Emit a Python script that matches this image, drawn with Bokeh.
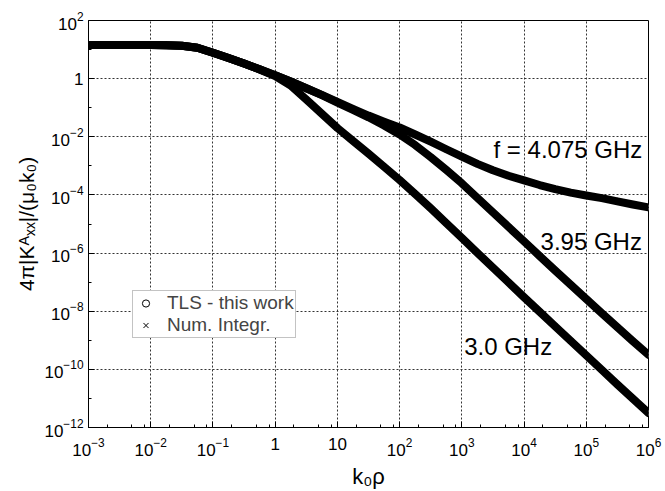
from bokeh.plotting import figure
from bokeh.models import FixedTicker, LogTickFormatter, Label, Legend, LegendItem, Range1d
from bokeh.embed import file_html
from bokeh.resources import INLINE

# ---------------- data ----------------
k0rho = [1e-3, 1.778e-3, 3.162e-3, 5.623e-3, 1e-2, 1.778e-2, 3.162e-2, 5.623e-2,
         0.1, 0.1778, 0.3162, 0.5623, 1.0, 1.778, 3.162, 5.623,
         10.0, 17.78, 31.62, 56.23, 100.0, 177.8, 316.2, 562.3,
         1e3, 1778.0, 3162.0, 5623.0, 1e4, 17780.0, 31620.0, 56230.0,
         1e5, 177800.0, 316200.0, 562300.0, 1e6]

k_f3p0 = [14.45, 14.45, 14.45, 14.45, 14.45, 14.1, 13.5, 11.5,
          7.76, 5.13, 3.31, 2.07, 1.22, 0.575, 0.191, 0.0617,
          0.0200, 7.24e-3, 2.63e-3, 9.33e-4, 3.24e-4, 1.07e-4, 3.47e-5, 1.07e-5,
          3.31e-6, 1.02e-6, 3.16e-7, 9.77e-8, 3.02e-8, 9.55e-9, 3.02e-9, 9.55e-10,
          3.02e-10, 9.55e-11, 3.02e-11, 9.77e-12, 3.16e-12]

k_f3p95 = [14.45, 14.45, 14.45, 14.45, 14.45, 14.1, 13.5, 11.5,
           7.76, 5.13, 3.31, 2.09, 1.32, 0.794, 0.468, 0.269,
           0.151, 0.0851, 0.0468, 0.0245, 0.0120, 5.2e-3, 2.0e-3, 7.24e-4,
           2.51e-4, 7.94e-5, 2.51e-5, 7.94e-6, 2.51e-6, 7.94e-7, 2.51e-7, 8.13e-8,
           2.63e-8, 8.51e-9, 2.82e-9, 9.33e-10, 3.16e-10]

k_f4p075 = [14.45, 14.45, 14.45, 14.45, 14.45, 14.1, 13.5, 11.5,
            7.76, 5.13, 3.31, 2.09, 1.32, 0.794, 0.468, 0.275,
            0.158, 0.0912, 0.0537, 0.0331, 0.0209, 0.0120, 6.76e-3, 3.72e-3,
            2.09e-3, 1.17e-3, 7.08e-4, 4.57e-4, 3.16e-4, 2.19e-4, 1.58e-4, 1.20e-4,
            9.55e-5, 7.76e-5, 6.03e-5, 4.68e-5, 3.72e-5]

series = [k_f3p0, k_f3p95, k_f4p075]

x_major = [1e-3, 1e-2, 1e-1, 1.0, 10.0, 1e2, 1e3, 1e4, 1e5, 1e6]
x_minor = [2e-3, 5e-3, 8e-3, 2e-2, 5e-2, 8e-2, 0.2, 0.5, 0.8, 2.0, 5.0, 8.0,
           20.0, 50.0, 80.0, 200.0, 500.0, 800.0, 2e3, 5e3, 8e3, 2e4, 5e4, 8e4,
           2e5, 5e5, 8e5]
y_major = [1e-12, 1e-10, 1e-8, 1e-6, 1e-4, 1e-2, 1.0, 1e2]
y_minor = [1e-11, 1e-9, 1e-7, 1e-5, 1e-3, 1e-1, 10.0]

curve_labels = ["3.0 GHz", "3.95 GHz", "f = 4.075 GHz"]
legend_labels = ["TLS - this work", "Num. Integr."]

FONT = "Liberation Sans"

p = figure(width=664, height=491, x_axis_type="log", y_axis_type="log",
           x_range=Range1d(1e-3, 1e6), y_range=Range1d(1e-12, 1e2),
           output_backend="svg", toolbar_location=None,
           min_border_left=88, min_border_right=16, min_border_top=20, min_border_bottom=63)

circle_rs = []
cross_rs = []
for vals in series:
    circle_rs.append(p.scatter(k0rho, vals, marker="circle", size=6, fill_color="white",
                               line_color="black", line_width=1))
    cross_rs.append(p.scatter(k0rho, vals, marker="x", size=6, line_color="black", line_width=1))
    p.line(k0rho, vals, line_width=8, line_color="black", line_join="round", line_cap="round")

# axes
for ax in (p.xaxis[0], p.yaxis[0]):
    ax.formatter = LogTickFormatter()
    ax.major_label_overrides = {1: "1", 10: "10"}
    ax.major_label_text_font = FONT
    ax.major_label_text_font_size = "17px"
    ax.major_label_text_color = "black"
    ax.axis_label_text_font = FONT
    ax.axis_label_text_font_style = "normal"
    ax.axis_label_text_color = "black"
    ax.major_tick_in = 6
    ax.major_tick_out = 0
    ax.minor_tick_in = 3
    ax.minor_tick_out = 0
    ax.axis_line_color = "black"
    ax.major_tick_line_color = "black"
    ax.minor_tick_line_color = "black"

p.xaxis[0].ticker = FixedTicker(ticks=x_major, minor_ticks=x_minor)
p.yaxis[0].ticker = FixedTicker(ticks=y_major, minor_ticks=y_minor)
p.xaxis[0].axis_label = "k₀ρ"
p.yaxis[0].axis_label = "4π|Kᴬₓₓ|/(μ₀k₀)"
p.xaxis[0].axis_label_text_font_size = "22px"
p.yaxis[0].axis_label_text_font_size = "21px"
p.xaxis[0].major_label_standoff = 10
p.yaxis[0].major_label_standoff = 5
p.xaxis[0].axis_label_standoff = 5
p.yaxis[0].axis_label_standoff = 3

p.xgrid.grid_line_color = "#333333"
p.ygrid.grid_line_color = "#333333"
p.xgrid.grid_line_dash = "2 2"
p.ygrid.grid_line_dash = "2 2"
p.xgrid.grid_line_width = 1
p.ygrid.grid_line_width = 1

p.outline_line_color = "black"
p.outline_line_width = 1
p.outline_line_alpha = 1.0
p.background_fill_color = "white"
p.border_fill_color = "white"

# curve annotations (text centre positions)
label_pos = [(1.09e3, 6.0e-10), (1.84e4, 2.57e-6), (3.23e3, 3.66e-3)]
for (lx, ly), txt in zip(label_pos, curve_labels):
    p.add_layout(Label(x=lx, y=ly, text=txt, text_font=FONT, text_font_size="24px",
                       text_color="black", text_baseline="middle", text_align="left"))

legend = Legend(items=[LegendItem(label=legend_labels[0], renderers=[circle_rs[0]]),
                       LegendItem(label=legend_labels[1], renderers=[cross_rs[0]])],
                location=(44, 89), orientation="vertical",
                label_text_font=FONT, label_text_font_size="19px",
                label_height=18, glyph_height=18, glyph_width=23, label_standoff=10,
                padding=1, spacing=-3, margin=0,
                border_line_color="#888888", border_line_width=1,
                background_fill_color="white", background_fill_alpha=1.0)
p.add_layout(legend)

open("out.html", "w").write(file_html(p, INLINE))
